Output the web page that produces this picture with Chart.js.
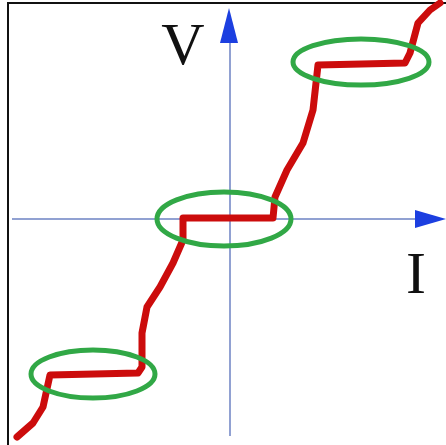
<!DOCTYPE html>
<html>
<head>
<meta charset="utf-8">
<script src="https://cdn.jsdelivr.net/npm/chart.js@4"></script>
<style>
  html, body { margin: 0; padding: 0; background: #fff; }
  #wrap { width: 446px; height: 445px; position: relative; }
</style>
</head>
<body>
<div id="wrap"><canvas id="iv"></canvas></div>
<script>
// I-V curve (arbitrary units, origin at the axes crossing)
const currentI = [-213, -197, -187, -180, -92, -88, -88, -83, -70, -57, -47, -47, 43, 45, 57, 73, 83, 88, 175, 180, 188, 200, 210];
const voltageV = [-218, -204, -188, -156, -154, -148, -114, -88, -68, -44, -21, 1, 1, 22, 49, 76, 109, 154, 156, 166, 196, 209, 216];

// plateaus that are circled
const plateauI = [-137, -6, 131];
const plateauV = [-155, 0, 157];

const axisLabels = ["I", "V"];

const points = currentI.map((x, i) => ({ x: x, y: voltageV[i] }));

const decor = {
    id: "decor",
    beforeDraw(chart) {
        const ctx = chart.ctx;
        ctx.save();
        ctx.fillStyle = "#fff";
        ctx.fillRect(0, 0, chart.width, chart.height);
        // frame
        ctx.strokeStyle = "#111";
        ctx.lineWidth = 2;
        ctx.beginPath();
        ctx.moveTo(8, chart.height);
        ctx.lineTo(8, 3);
        ctx.lineTo(chart.width, 3);
        ctx.stroke();
        ctx.restore();
    },
    beforeDatasetsDraw(chart) {
        const ctx = chart.ctx;
        const xs = chart.scales.x, ys = chart.scales.y;
        const x0 = xs.getPixelForValue(0), y0 = ys.getPixelForValue(0);
        ctx.save();
        ctx.strokeStyle = "#6d82c4";
        ctx.lineWidth = 1.5;
        ctx.beginPath();
        ctx.moveTo(xs.getPixelForValue(-218), y0);
        ctx.lineTo(xs.getPixelForValue(190), y0);
        ctx.moveTo(x0, ys.getPixelForValue(-217));
        ctx.lineTo(x0, ys.getPixelForValue(180));
        ctx.stroke();
        // arrow heads
        ctx.fillStyle = "#1c3fe0";
        ctx.beginPath();
        const tipX = xs.getPixelForValue(216);
        ctx.moveTo(tipX, y0);
        ctx.lineTo(tipX - 31, y0 - 9);
        ctx.lineTo(tipX - 31, y0 + 9);
        ctx.closePath();
        ctx.fill();
        ctx.beginPath();
        const tipY = ys.getPixelForValue(211);
        ctx.moveTo(x0 - 1, tipY);
        ctx.lineTo(x0 - 10, tipY + 35);
        ctx.lineTo(x0 + 8, tipY + 35);
        ctx.closePath();
        ctx.fill();
        // labels
        ctx.fillStyle = "#111";
        ctx.font = "60px 'Liberation Serif', 'DejaVu Serif', serif";
        ctx.textAlign = "center";
        ctx.textBaseline = "alphabetic";
        ctx.fillText(axisLabels[1], xs.getPixelForValue(-47), ys.getPixelForValue(155));
        ctx.fillText(axisLabels[0], xs.getPixelForValue(186), ys.getPixelForValue(-74));
        ctx.restore();
    },
    afterDatasetsDraw(chart) {
        const ctx = chart.ctx;
        const xs = chart.scales.x, ys = chart.scales.y;
        const rx = [62, 67, 68], ry = [24, 27, 23];
        ctx.save();
        ctx.strokeStyle = "#31a846";
        ctx.lineWidth = 5;
        plateauI.forEach((v, i) => {
            ctx.beginPath();
            ctx.ellipse(xs.getPixelForValue(v), ys.getPixelForValue(plateauV[i]), rx[i], ry[i], 0, 0, Math.PI * 2);
            ctx.stroke();
        });
        ctx.restore();
    },
};

new Chart(document.getElementById("iv"), {
    type: "scatter",
    data: {
        datasets: [
            {
                label: "V(I)",
                data: points,
                showLine: true,
                borderColor: "#cc0c0c",
                borderWidth: 7,
                borderJoinStyle: "round",
                borderCapStyle: "round",
                pointRadius: 0,
                tension: 0,
                clip: false,
            },
        ],
    },
    options: {
        responsive: true,
        maintainAspectRatio: false,
        animation: false,
        layout: { padding: 0 },
        plugins: {
            legend: { display: false },
            tooltip: { enabled: false },
        },
        scales: {
            x: { type: "linear", display: false, min: -230, max: 216 },
            y: { type: "linear", display: false, min: -226, max: 219 },
        },
    },
    plugins: [decor],
});
</script>
</body>
</html>
